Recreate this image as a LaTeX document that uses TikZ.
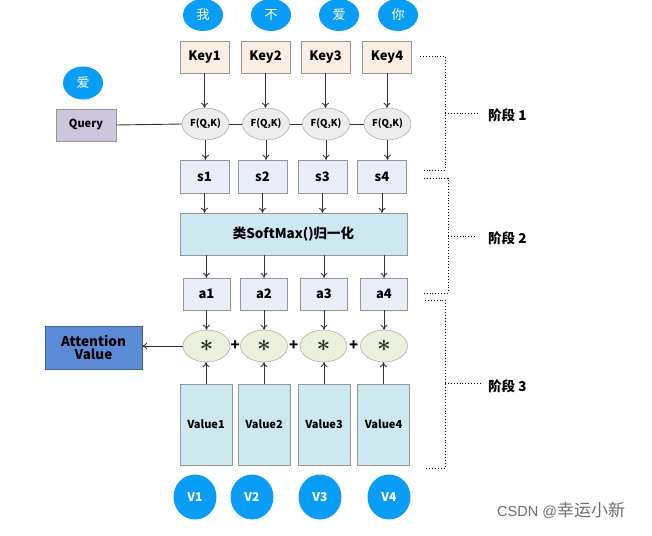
\documentclass[tikz,border=0pt]{standalone}
\usepackage{fontspec}
\setmainfont{Noto Sans CJK SC}
\newfontfamily\latinwm{Liberation Sans}
\usetikzlibrary{calc,arrows.meta,shapes.geometric}
\definecolor{cblue}{RGB}{10,157,245}
\definecolor{keyfill}{RGB}{251,238,226}
\definecolor{ffill}{RGB}{237,237,237}
\definecolor{qfill}{RGB}{206,198,221}
\definecolor{sfill}{RGB}{233,237,248}
\definecolor{cyfill}{RGB}{205,232,239}
\definecolor{mfill}{RGB}{235,240,221}
\definecolor{attfill}{RGB}{91,139,214}
\definecolor{bord}{RGB}{150,150,150}
\definecolor{arrc}{RGB}{50,50,50}
\definecolor{astc}{RGB}{40,50,40}
\newcommand{\bigast}{\textcolor{astc}{\scalebox{2.4}{\boldmath$\ast$}}}
\begin{document}
\begin{tikzpicture}[x=1pt,y=-1pt,
  word/.style={ellipse,fill=cblue,text=white,minimum width=40pt,minimum height=32pt,inner sep=0pt,font=\fontsize{13}{13}\selectfont},
  vcirc/.style={ellipse,fill=cblue,text=white,minimum width=43pt,minimum height=45pt,inner sep=0pt,font=\bfseries\fontsize{12}{12}\selectfont},
  keybox/.style={rectangle,draw=bord,fill=keyfill,minimum width=49pt,minimum height=32pt,inner sep=0pt,font=\bfseries\fontsize{13}{13}\selectfont},
  fell/.style={ellipse,draw=bord,fill=ffill,minimum width=47pt,minimum height=32pt,inner sep=0pt,font=\bfseries\fontsize{9.5}{9.5}\selectfont},
  sbox/.style={rectangle,draw=bord,fill=sfill,minimum width=49pt,minimum height=33pt,inner sep=0pt,font=\bfseries\fontsize{13}{13}\selectfont},
  abox/.style={rectangle,draw=bord,fill=sfill,minimum width=47pt,minimum height=32pt,inner sep=0pt,font=\bfseries\fontsize{13}{13}\selectfont},
  mell/.style={ellipse,draw=bord,fill=mfill,minimum width=47pt,minimum height=32pt,inner sep=0pt},
  valbox/.style={rectangle,draw=bord,fill=cyfill,minimum width=52pt,minimum height=81pt,inner sep=0pt,font=\bfseries\fontsize{11}{11}\selectfont},
  arr/.style={draw=arrc,line width=0.9pt,-{To[length=5pt,width=7pt]}},
  ln/.style={draw=arrc,line width=0.9pt},
  brk/.style={draw=black,dotted,line width=0.9pt},
  stage/.style={font=\bfseries\fontsize{13.5}{13.5}\selectfont,anchor=west,inner sep=0pt},
  plus/.style={font=\bfseries\fontsize{15}{15}\selectfont,inner sep=0pt}]
\useasboundingbox (0,0) rectangle (652,535);
% top word circles
\node[word] (w1) at (203,15) {我};
\node[word] (w2) at (271,15) {不};
\node[word] (w3) at (339,15) {爱};
\node[word] (w4) at (398,15) {你};
\node[word,minimum height=33pt] (wq) at (83,83) {爱};
% keys
\node[keybox] (k1) at (204.5,57) {Key1};
\node[keybox] (k2) at (265.5,57) {Key2};
\node[keybox] (k3) at (325.5,57) {Key3};
\node[keybox] (k4) at (387,57) {Key4};
% F
\node[fell] (f1) at (205.5,124) {F(Q,K)};
\node[fell] (f2) at (266,124) {F(Q,K)};
\node[fell] (f3) at (326,124) {F(Q,K)};
\node[fell] (f4) at (387.5,124) {F(Q,K)};
\node[rectangle,draw=bord,fill=qfill,minimum width=60pt,minimum height=32pt,inner sep=0pt,font=\bfseries\fontsize{11}{11}\selectfont] (q) at (86,125) {Query};
% s
\node[sbox] (s1) at (204.5,176.5) {s1};
\node[sbox] (s2) at (262.5,176.5) {s2};
\node[sbox] (s3) at (322.5,176.5) {s3};
\node[sbox] (s4) at (382,176.5) {s4};
% softmax
\node[rectangle,draw=bord,fill=cyfill,minimum width=227pt,minimum height=42pt,inner sep=0pt,font=\bfseries\fontsize{13.5}{13.5}\selectfont] (sm) at (293.5,234) {类SoftMax()归一化};
% a
\node[abox] (a1) at (206.5,294) {a1};
\node[abox] (a2) at (264,294) {a2};
\node[abox] (a3) at (324,294) {a3};
\node[abox] (a4) at (384,294) {a4};
% multiply
\node[mell] (m1) at (206.5,346) {\bigast};
\node[mell] (m2) at (264,346) {\bigast};
\node[mell] (m3) at (323.5,346) {\bigast};
\node[mell] (m4) at (384,346) {\bigast};
\node[plus] (p1) at ($(m1.east)!0.5!(m2.west)$) {+};
\node[plus] (p2) at ($(m2.east)!0.5!(m3.west)$) {+};
\node[plus] (p3) at ($(m3.east)!0.5!(m4.west)$) {+};
% values
\node[valbox] (v1) at (206,424.5) {Value1};
\node[valbox] (v2) at (264,424.5) {Value2};
\node[valbox] (v3) at (324,424.5) {Value3};
\node[valbox] (v4) at (383.5,424.5) {Value4};
% attention
\node[rectangle,draw={rgb,255:red,60;green,95;blue,155},fill=attfill,minimum width=97pt,minimum height=43pt,inner sep=0pt,align=center,font=\bfseries\fontsize{13.5}{13}\selectfont] (att) at (93.5,347.5) {Attention\\Value};
% V circles
\node[vcirc] (c1) at (195,497) {V1};
\node[vcirc] (c2) at (252,497) {V2};
\node[vcirc] (c3) at (320,497) {V3};
\node[vcirc] (c4) at (389,497) {V4};
% connectors
\draw[ln] (q.east) -- (f1.west);
\draw[ln] (f1.east) -- (f2.west);
\draw[ln] (f2.east) -- (f3.west);
\draw[ln] (f3.east) -- (f4.west);
\foreach \i in {1,2,3,4}{
  \draw[arr] (k\i.south) -- (k\i.south |- f\i.north);
  \draw[arr] (f\i.south) -- (f\i.south |- s\i.north);
  \draw[arr] (s\i.south) -- (s\i.south |- sm.north);
  \draw[arr] (a\i.north |- sm.south) -- (a\i.north);
  \draw[arr] (a\i.south) -- (a\i.south |- m\i.north);
  \draw[arr] (v\i.north) -- (v\i.north |- m\i.south);
}
\draw[arr] (m1.west) -- (m1.west -| att.east);
% stage brackets
\coordinate (b1a) at (420,56); \coordinate (b1b) at (445,56);
\coordinate (b1c) at (445,170); \coordinate (b1d) at (422,170);
\coordinate (b1m) at (445,113); \coordinate (b1t) at (478,113);
\draw[brk] (b1a) -- (b1b) -- (b1c) -- (b1d);
\draw[brk] (b1m) -- (b1t);
\node[stage] (st1) at (488,115) {阶段 1};
\coordinate (b2a) at (424,178); \coordinate (b2b) at (448,178);
\coordinate (b2c) at (448,293); \coordinate (b2d) at (424,293);
\coordinate (b2m) at (448,236); \coordinate (b2t) at (475,236);
\draw[brk] (b2a) -- (b2b) -- (b2c) -- (b2d);
\draw[brk] (b2m) -- (b2t);
\node[stage] (st2) at (488,238) {阶段 2};
\coordinate (b3a) at (425,300); \coordinate (b3b) at (445,300);
\coordinate (b3c) at (445,468); \coordinate (b3d) at (425,468);
\coordinate (b3m) at (445,383); \coordinate (b3t) at (482,383);
\draw[brk] (b3a) -- (b3b) -- (b3c) -- (b3d);
\draw[brk] (b3m) -- (b3t);
\node[stage] (st3) at (488,386) {阶段 3};
% watermark
\node[anchor=west,inner sep=0pt,text={rgb,255:red,110;green,110;blue,110},font=\fontsize{17}{17}\selectfont] (wm) at (497,510) {{\latinwm\fontsize{14.5}{14.5}\selectfont CSDN @}幸运小新};
\end{tikzpicture}
\end{document}
